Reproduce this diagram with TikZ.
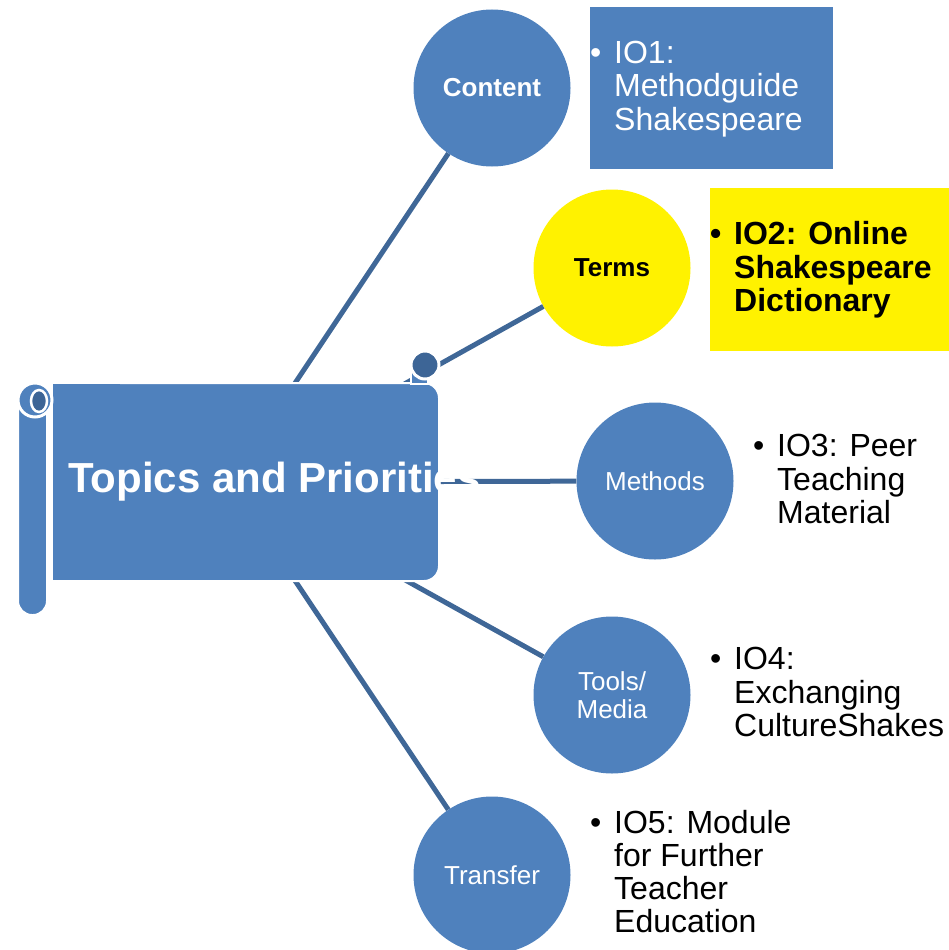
\documentclass[tikz,border=0pt]{standalone}
\usepackage{fontspec}
\setmainfont{Liberation Sans}
\definecolor{topicblue}{HTML}{4F81BD}
\definecolor{linkblue}{HTML}{3F6797}
\definecolor{rolldark}{HTML}{3D6596}
\newcommand{\bulletlines}[1]{\makebox[24pt][l]{\textbullet}\begin{tabular}[t]{@{}l@{}}#1\end{tabular}}

\begin{document}
\begin{tikzpicture}[x=1pt,y=-1pt,
  topic/.style={circle,fill=topicblue,minimum size=157pt,inner sep=0pt,text=white,align=center,font=\fontsize{26}{28}\selectfont},
  link/.style={draw=linkblue,line width=5pt},
  iotext/.style={anchor=west,inner sep=0pt,font=\fontsize{32}{33}\selectfont}]
\useasboundingbox (0,0) rectangle (949,950);
\node[topic,font=\bfseries\fontsize{26}{28}\selectfont](content) at (492,88){Content};
\node[topic,fill=yellow,text=black,font=\bfseries\fontsize{26}{28}\selectfont](terms) at (612,268){Terms};
\node[topic](methods) at (655,481){Methods};
\node[topic](tools) at (612,695){Tools/\\Media};
\node[topic](transfer) at (492,875){Transfer};
\coordinate (hub) at (229,482);
\draw[link](hub)--(content);
\draw[link](hub)--(terms);
\draw[link](hub)--(methods);
\draw[link](hub)--(tools);
\draw[link](hub)--(transfer);
% scroll
\filldraw[fill=topicblue,draw=white,line width=2pt,rounded corners=14] (18,395) rectangle (47,615);
\filldraw[fill=topicblue,draw=white,line width=2pt,rounded corners=15] (52,383) rectangle (439,581);
\fill[topicblue] (53,384) rectangle (120,580);
\filldraw[fill=topicblue,draw=white,line width=3pt] (35,400) circle (17);
\filldraw[fill=rolldark,draw=white,line width=2.5pt] (39,401) ellipse (8 and 11);
\filldraw[fill=topicblue,draw=white,line width=2pt] (411,372) rectangle (428,384);
\filldraw[fill=rolldark,draw=white,line width=3pt] (425,365) circle (14);
\node[anchor=base west,inner sep=0pt,text=white,font=\bfseries\fontsize{42}{48}\selectfont](topics) at (68,492){Topics and Priorities};
% outputs
\node[fill=topicblue,minimum width=243pt,minimum height=162pt,inner sep=0pt](io1box) at (711.5,88){};
\node[iotext,text=white](io1) at (590,90.4){\bulletlines{IO1:\\Methodguide\\Shakespeare}};
\node[fill=yellow,minimum width=239pt,minimum height=163pt,inner sep=0pt](io2box) at (829.5,269.5){};
\node[iotext,font=\bfseries\fontsize{32}{33}\selectfont](io2) at (710,271.4){\bulletlines{IO2: Online\\Shakespeare\\Dictionary}};
\node[iotext](io3) at (753,483.4){\bulletlines{IO3: Peer\\Teaching\\Material}};
\node[iotext](io4) at (710,696.4){\bulletlines{IO4:\\Exchanging\\CultureShakes}};
\node[iotext](io5) at (590,876){\bulletlines{IO5: Module\\for Further\\Teacher\\Education}};
\end{tikzpicture}
\end{document}
